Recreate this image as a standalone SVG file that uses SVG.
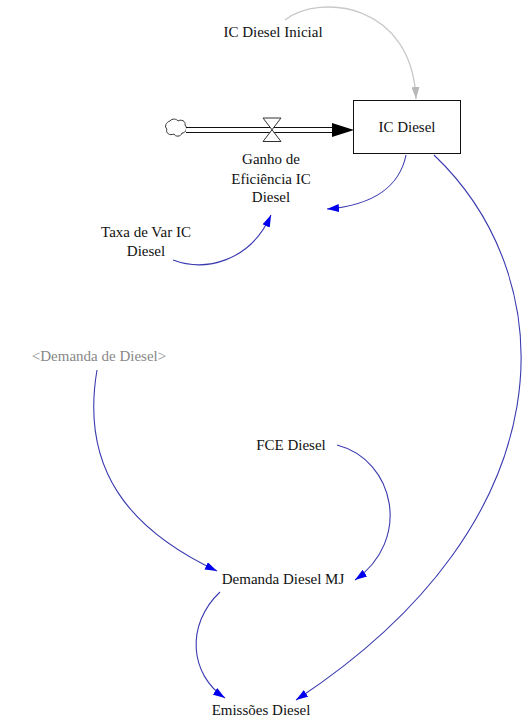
<svg xmlns="http://www.w3.org/2000/svg" width="531" height="721" viewBox="0 0 531 721">
  <style>
    .lbl { font-family: "Liberation Serif", "Times New Roman", serif; font-size: 15px; fill: #111; }
    .shadow { fill: #888; }
    .link { fill: none; stroke: #3a3ab0; stroke-width: 1.1; marker-end: url(#blueHead); }
    .init { fill: none; stroke: #c8c8c8; stroke-width: 1.3; marker-end: url(#grayHead); }
  </style>
  <defs>
    <marker id="blueHead" viewBox="0 0 12 8" refX="12" refY="4" markerWidth="12" markerHeight="8" markerUnits="userSpaceOnUse" orient="auto">
      <path d="M0,0 L12,4 L0,8 Z" fill="#0000ee"/>
    </marker>
    <marker id="grayHead" viewBox="0 0 12 8" refX="12" refY="4" markerWidth="12" markerHeight="8" markerUnits="userSpaceOnUse" orient="auto">
      <path d="M0,0 L12,4 L0,8 Z" fill="#b8b8b8"/>
    </marker>
  </defs>
  <rect width="531" height="721" fill="#fff"/>

  <!-- connectors -->
  <g id="connectors">
    <path class="init" d="M285,20 C320,-7 412,3 416,99"/>
    <path class="link" d="M406,155 C400,185 375,205 327,209"/>
    <path class="link" d="M173,260 C205,272 250,262 271,215"/>
    <path class="link" d="M97,370 C80,470 130,530 217,571"/>
    <path class="link" d="M337,445 C395,460 412,540 355,580"/>
    <path class="link" d="M220,592 C185,625 190,675 225,698"/>
    <path class="link" d="M434,155 C565,280 570,520 296,700"/>
  </g>

  <!-- flow: source cloud, pipe, valve -->
  <g id="flow-ganho">
    <path d="M170,121 C172,118 177,119 178,121 C181,119 186,121 185,125 C188,128 186,133 182,133 C181,137 175,137 174,134 C170,136 165,133 167,129 C164,127 166,122 170,121 Z" fill="#fff" stroke="#333" stroke-width="1"/>
    <line x1="186" y1="127.5" x2="334" y2="127.5" stroke="#111" stroke-width="1.2"/>
    <line x1="186" y1="132.5" x2="334" y2="132.5" stroke="#111" stroke-width="1.2"/>
    <line x1="186" y1="130" x2="334" y2="130" stroke="#fff" stroke-width="3.4"/>
    <path d="M332,123 L354,130 L332,137 Z" fill="#000"/>
    <path d="M263,118 L281,118 L263,141.5 L281,141.5 Z" fill="#fff" stroke="#333" stroke-width="1"/>
    <text class="lbl" x="271" y="164" text-anchor="middle">Ganho de</text>
    <text class="lbl" x="271" y="184" text-anchor="middle">Eficiência IC</text>
    <text class="lbl" x="271" y="202" text-anchor="middle">Diesel</text>
  </g>

  <g id="ic-diesel">
    <rect x="353.5" y="100.5" width="107" height="53" fill="#fff" stroke="#111" stroke-width="1"/>
    <text class="lbl" x="407" y="132" text-anchor="middle">IC Diesel</text>
  </g>

  <g id="ic-diesel-inicial">
    <text class="lbl" x="273" y="37" text-anchor="middle">IC Diesel Inicial</text>
  </g>

  <g id="taxa-var">
    <text class="lbl" x="146" y="237" text-anchor="middle">Taxa de Var IC</text>
    <text class="lbl" x="146" y="256" text-anchor="middle">Diesel</text>
  </g>

  <g id="demanda-de-diesel">
    <text class="lbl shadow" x="99" y="361" text-anchor="middle">&lt;Demanda de Diesel&gt;</text>
  </g>

  <g id="fce-diesel">
    <text class="lbl" x="291" y="450" text-anchor="middle">FCE Diesel</text>
  </g>

  <g id="demanda-diesel-mj">
    <text class="lbl" x="283" y="584" text-anchor="middle">Demanda Diesel MJ</text>
  </g>

  <g id="emissoes-diesel">
    <text class="lbl" x="261" y="715" text-anchor="middle">Emissões Diesel</text>
  </g>
</svg>
